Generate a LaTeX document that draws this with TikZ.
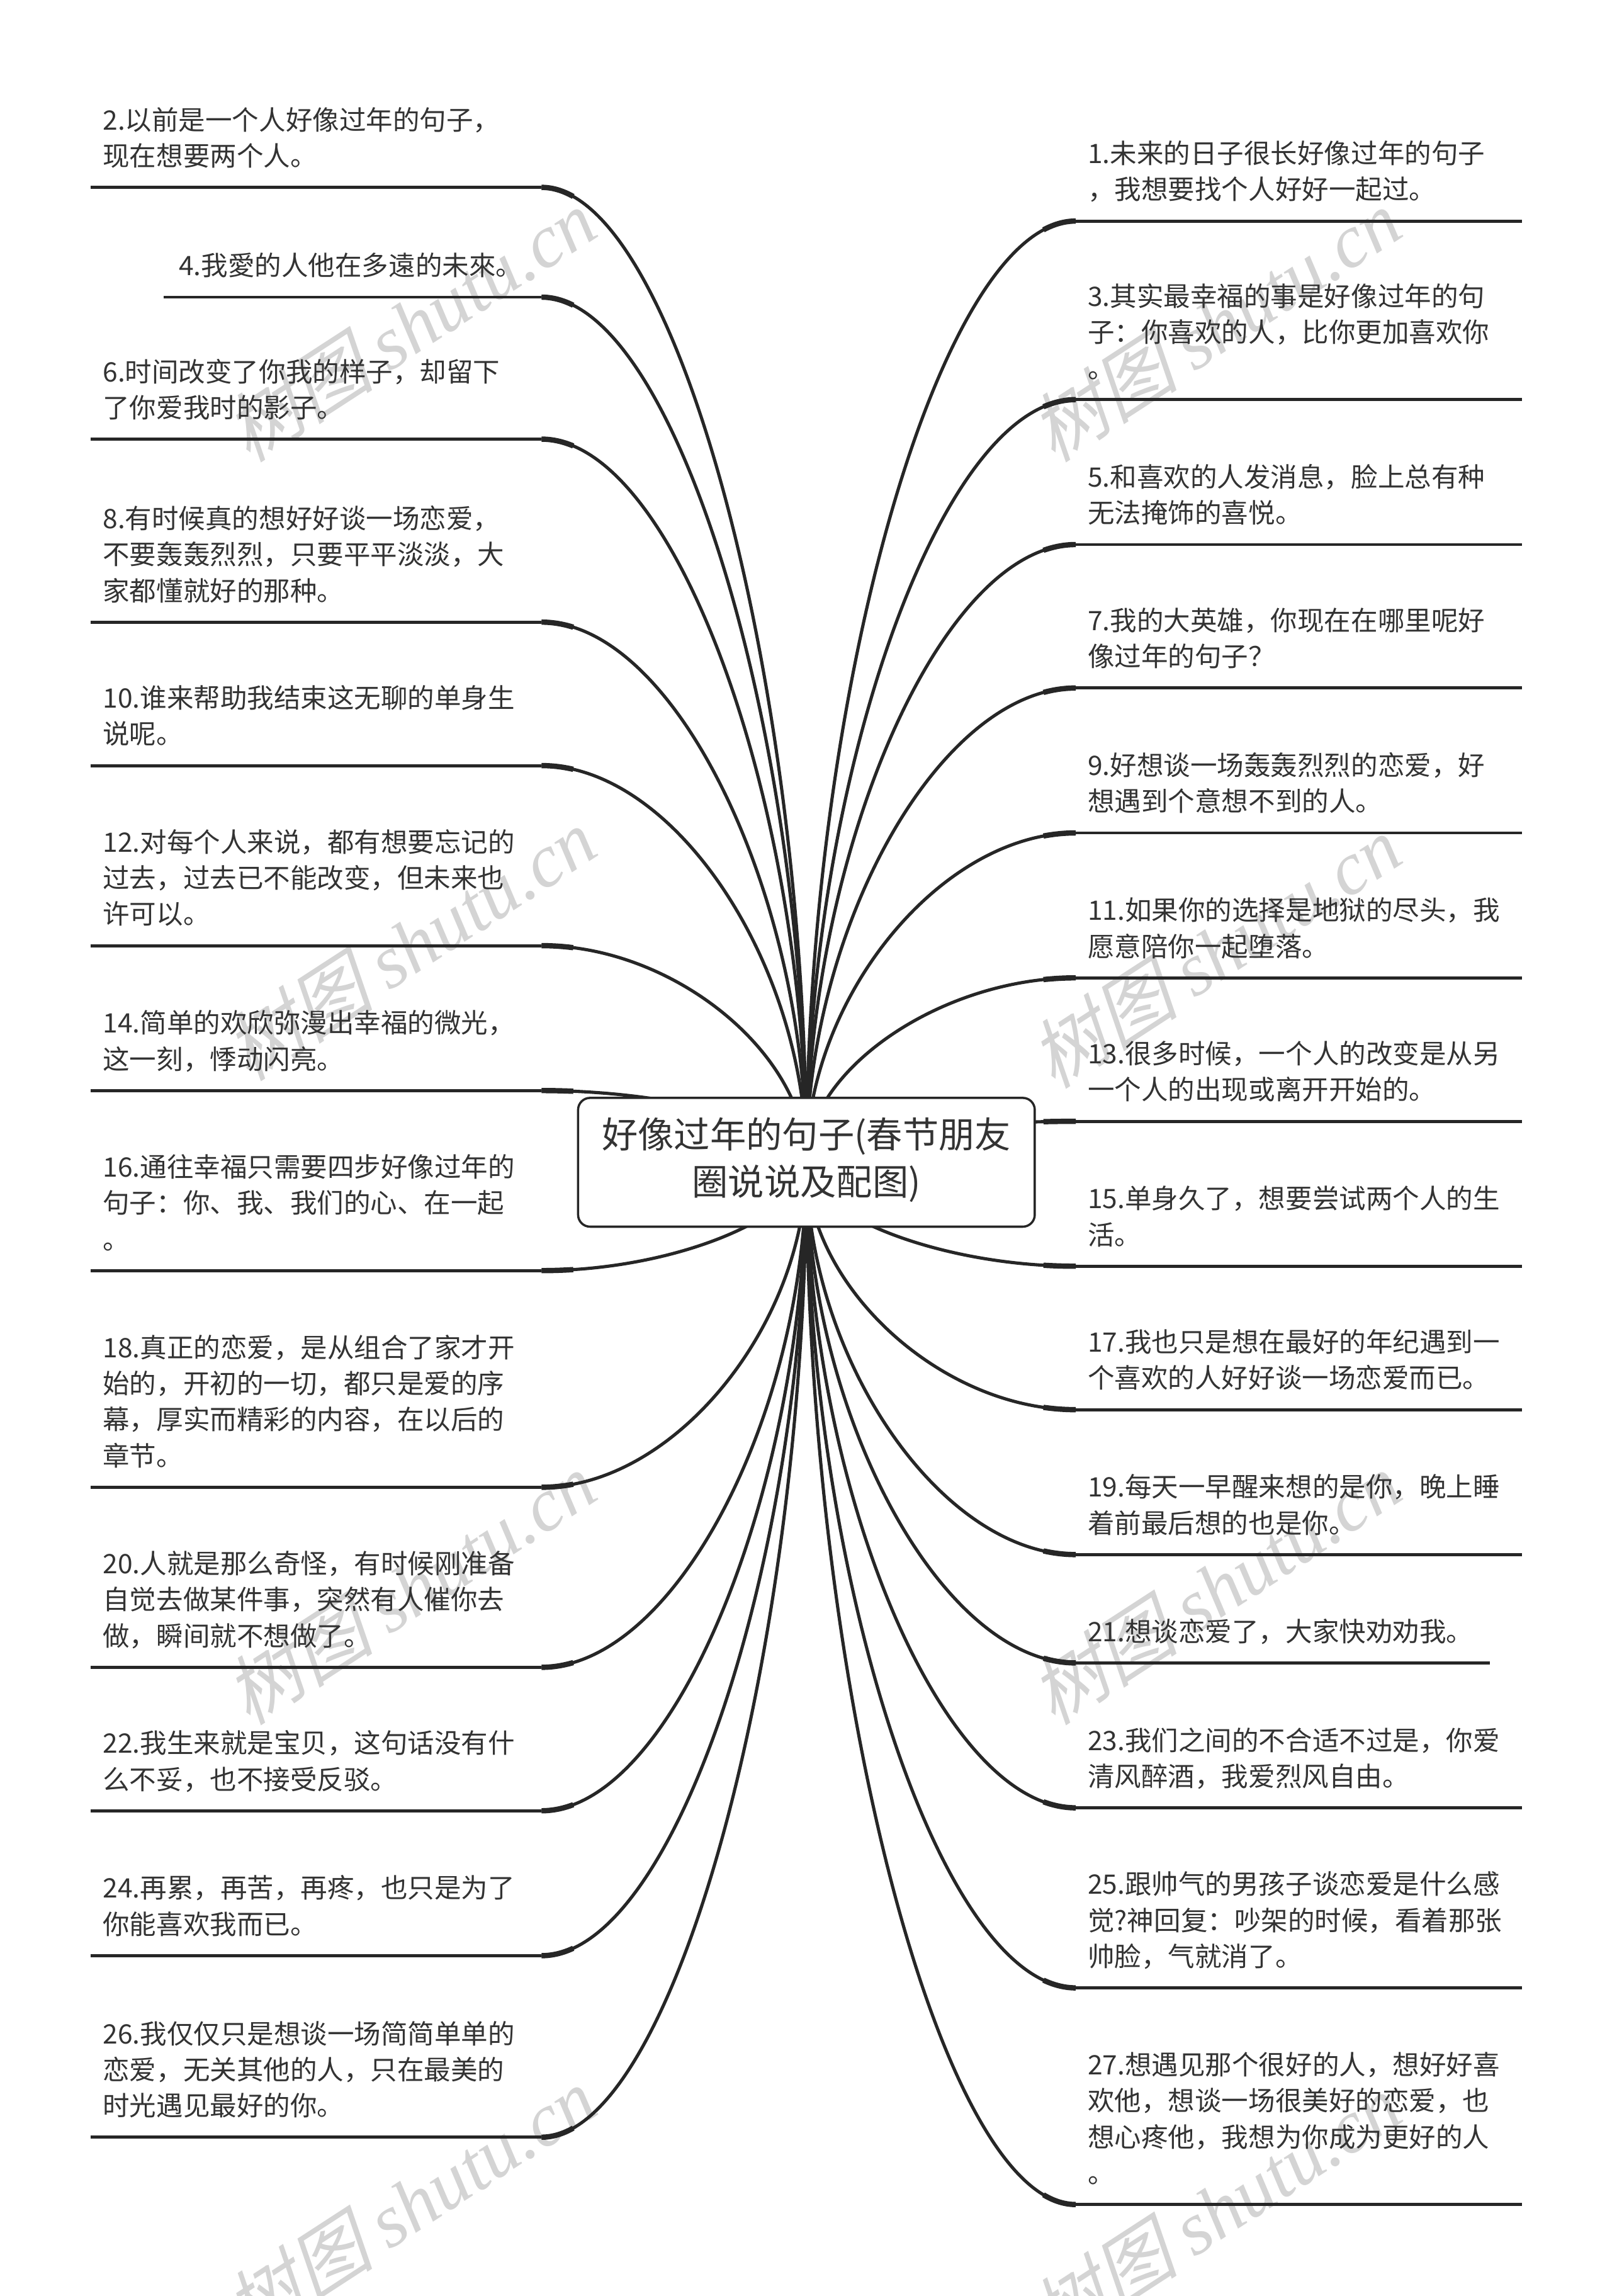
\documentclass[tikz,border=0pt]{standalone}
\usepackage{fontspec}
\setmainfont{Noto Sans CJK SC}
\newfontfamily\wmcjk[FakeSlant=0.25]{Noto Sans CJK SC}
\newfontfamily\wmlatin{Liberation Serif}
\usetikzlibrary{calc}
\definecolor{ink}{HTML}{333333}
\definecolor{linec}{HTML}{262626}
\definecolor{wmc}{HTML}{D4D4D4}
\newcommand\itemfont{\fontsize{12.1pt}{16.3pt}\selectfont}
\newcommand\lnS{\strut}
\tikzset{
 itemtext/.style={inner sep=0pt, align=left, text=ink, font=\itemfont, anchor=south west},
 uline/.style={draw=linec, line width=1.4pt},
 branchline/.style={draw=linec, line width=1.45pt},
 jointline/.style={draw=linec, line width=2.4pt},
 rootbox/.style={draw=linec, line width=1pt, fill=white, rounded corners=1.9mm,
   minimum width=72.55mm, minimum height=20.46mm, inner sep=0pt, align=center,
   text=ink, font=\fontsize{16.3pt}{21.1pt}\selectfont},
 wm/.style={text=wmc, rotate=33, inner sep=0pt, font=\fontsize{34pt}{34pt}\selectfont}
}
\newcommand\branch[3]{%
  \coordinate (bq1) at (#2,#3);
  \coordinate (bq2) at (551,{(#3+794)/2});
  \coordinate (bqa) at ($(#1)!0.08!(bq1)$);
  \coordinate (bqb) at ($(bq1)!0.08!(bq2)$);
  \coordinate (bqc) at ($(bq2)!0.08!(rootc)$);
  \coordinate (bqd) at ($(bqa)!0.08!(bqb)$);
  \coordinate (bqe) at ($(bqb)!0.08!(bqc)$);
  \coordinate (bqf) at ($(bqd)!0.08!(bqe)$);
  \draw[branchline] (#1) .. controls (bq1) and (bq2) .. (rootc);
  \draw[jointline] (#1) .. controls (bqa) and (bqd) .. (bqf);
}
\newcommand\leftitem[5]{%
  \coordinate (#1a) at (#3,#2);
  \coordinate (#1b) at (370,#2);
  \branch{#1b}{460.5}{#2}
  \draw[uline] (#1a) -- (#1b);
  \node[itemtext] (#1) at (#4,#2-7) {#5};
}
\newcommand\rightitem[4]{%
  \coordinate (#1a) at (735,#2);
  \coordinate (#1b) at (#3,#2);
  \branch{#1a}{643}{#2}
  \draw[uline] (#1a) -- (#1b);
  \node[itemtext] (#1) at (743,#2-7) {#4};
}
\begin{document}
\begin{tikzpicture}[x=0.23252mm, y=-0.23252mm]
\path[fill=white, use as bounding box] (0,0) rectangle (1101,1568.5);
% watermark
\foreach \wx/\wy [count=\i] in {280/222, 830/222, 280/645, 830/650, 280/1085, 830/1085, 280/1505, 830/1510}
  \node[wm] (wm\i) at (\wx,\wy) {{\wmcjk 树图} {\wmlatin\itshape shutu.cn}};
\coordinate (rootc) at (551,794);
% left side
\leftitem{l2}{128}{62}{70}{\lnS 2.以前是一个人好像过年的句子，\\\lnS 现在想要两个人。}
\leftitem{l4}{203}{112}{122}{\lnS 4.我愛的人他在多遠的未來。}
\leftitem{l6}{300}{62}{70}{\lnS 6.时间改变了你我的样子，却留下\\\lnS 了你爱我时的影子。}
\leftitem{l8}{425}{62}{70}{\lnS 8.有时候真的想好好谈一场恋爱，\\\lnS 不要轰轰烈烈，只要平平淡淡，大\\\lnS 家都懂就好的那种。}
\leftitem{l10}{523}{62}{70}{\lnS 10.谁来帮助我结束这无聊的单身生\\\lnS 说呢。}
\leftitem{l12}{646}{62}{70}{\lnS 12.对每个人来说，都有想要忘记的\\\lnS 过去，过去已不能改变，但未来也\\\lnS 许可以。}
\leftitem{l14}{745}{62}{70}{\lnS 14.简单的欢欣弥漫出幸福的微光，\\\lnS 这一刻，悸动闪亮。}
\leftitem{l16}{868}{62}{70}{\lnS 16.通往幸福只需要四步好像过年的\\\lnS 句子：你、我、我们的心、在一起\\\lnS 。}
\leftitem{l18}{1016}{62}{70}{\lnS 18.真正的恋爱，是从组合了家才开\\\lnS 始的，开初的一切，都只是爱的序\\\lnS 幕，厚实而精彩的内容，在以后的\\\lnS 章节。}
\leftitem{l20}{1139}{62}{70}{\lnS 20.人就是那么奇怪，有时候刚准备\\\lnS 自觉去做某件事，突然有人催你去\\\lnS 做，瞬间就不想做了。}
\leftitem{l22}{1237}{62}{70}{\lnS 22.我生来就是宝贝，这句话没有什\\\lnS 么不妥，也不接受反驳。}
\leftitem{l24}{1336}{62}{70}{\lnS 24.再累，再苦，再疼，也只是为了\\\lnS 你能喜欢我而已。}
\leftitem{l26}{1460}{62}{70}{\lnS 26.我仅仅只是想谈一场简简单单的\\\lnS 恋爱，无关其他的人，只在最美的\\\lnS 时光遇见最好的你。}
% right side
\rightitem{r1}{151}{1040}{\lnS 1.未来的日子很长好像过年的句子\\\lnS ，我想要找个人好好一起过。}
\rightitem{r3}{273}{1040}{\lnS 3.其实最幸福的事是好像过年的句\\\lnS 子：你喜欢的人，比你更加喜欢你\\\lnS 。}
\rightitem{r5}{372}{1040}{\lnS 5.和喜欢的人发消息，脸上总有种\\\lnS 无法掩饰的喜悦。}
\rightitem{r7}{470}{1040}{\lnS 7.我的大英雄，你现在在哪里呢好\\\lnS 像过年的句子？}
\rightitem{r9}{569}{1040}{\lnS 9.好想谈一场轰轰烈烈的恋爱，好\\\lnS 想遇到个意想不到的人。}
\rightitem{r11}{668}{1040}{\lnS 11.如果你的选择是地狱的尽头，我\\\lnS 愿意陪你一起堕落。}
\rightitem{r13}{766}{1040}{\lnS 13.很多时候，一个人的改变是从另\\\lnS 一个人的出现或离开开始的。}
\rightitem{r15}{865}{1040}{\lnS 15.单身久了，想要尝试两个人的生\\\lnS 活。}
\rightitem{r17}{963}{1040}{\lnS 17.我也只是想在最好的年纪遇到一\\\lnS 个喜欢的人好好谈一场恋爱而已。}
\rightitem{r19}{1062}{1040}{\lnS 19.每天一早醒来想的是你，晚上睡\\\lnS 着前最后想的也是你。}
\rightitem{r21}{1136}{1018}{\lnS 21.想谈恋爱了，大家快劝劝我。}
\rightitem{r23}{1235}{1040}{\lnS 23.我们之间的不合适不过是，你爱\\\lnS 清风醉酒，我爱烈风自由。}
\rightitem{r25}{1358}{1040}{\lnS 25.跟帅气的男孩子谈恋爱是什么感\\\lnS 觉?神回复：吵架的时候，看着那张\\\lnS 帅脸，气就消了。}
\rightitem{r27}{1506}{1040}{\lnS 27.想遇见那个很好的人，想好好喜\\\lnS 欢他，想谈一场很美好的恋爱，也\\\lnS 想心疼他，我想为你成为更好的人\\\lnS 。}
% root
\node[rootbox] (root) at (rootc) {\lnS 好像过年的句子(春节朋友\\\lnS 圈说说及配图)};
\end{tikzpicture}
\end{document}
